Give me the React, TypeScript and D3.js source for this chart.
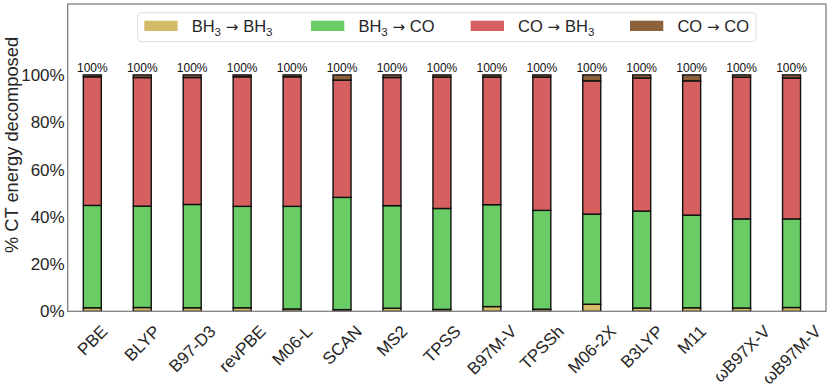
import React from 'react';
import * as d3 from 'd3';

const categories = ['PBE', 'BLYP', 'B97-D3', 'revPBE', 'M06-L', 'SCAN', 'MS2', 'TPSS', 'B97M-V', 'TPSSh', 'M06-2X', 'B3LYP', 'M11', 'ωB97X-V', 'ωB97M-V'];
const bh3ToBh3 = [1.5, 1.6, 1.5, 1.5, 1.0, 0.7, 1.3, 0.8, 2.0, 0.9, 3.0, 1.4, 1.5, 1.4, 1.6];
const bh3ToCo = [43.3, 42.9, 43.7, 42.9, 43.4, 47.5, 43.4, 42.7, 43.1, 41.8, 38.1, 41.0, 39.2, 37.7, 37.5];
const coToBh3 = [54.4, 54.4, 53.7, 54.8, 54.8, 49.6, 54.2, 55.6, 54.0, 56.4, 56.4, 56.3, 56.8, 59.9, 59.6];
const coToCo = [0.8, 1.1, 1.1, 0.8, 0.8, 2.2, 1.1, 0.9, 0.9, 0.9, 2.5, 1.3, 2.5, 1.0, 1.3];
const yTicks = [0, 20, 40, 60, 80, 100];
const seriesKeys = ['bh3bh3', 'bh3co', 'cobh3', 'coco'];
const seriesColors = ['#D5BB67', '#6ACC64', '#D65F5F', '#8C613C'];
const legendPairs = [['BH3', 'BH3'], ['BH3', 'CO'], ['CO', 'BH3'], ['CO', 'CO']];
const legendX = [144.3, 311, 470.7, 630];

const W = 830, H = 389;
const FONT = "'Liberation Sans', Arial, 'DejaVu Sans', sans-serif";

function measure(text: string, size: number): number {
  try {
    const c = document.createElement('canvas').getContext('2d');
    if (c) {
      c.font = `${size}px 'Liberation Sans'`;
      return c.measureText(text).width;
    }
  } catch (e) {}
  return text.length * size * 0.6;
}

type Part = { t: string; sub: boolean; arrow?: boolean };

function formulaParts(pair: string[]): Part[] {
  const parts: Part[] = [];
  pair.forEach((s, k) => {
    const m = s.match(/^([A-Za-z]+)(\d*)$/);
    if (m) {
      parts.push({ t: m[1], sub: false });
      if (m[2]) parts.push({ t: m[2], sub: true });
    } else parts.push({ t: s, sub: false });
    if (k === 0) parts.push({ t: ' \u2192 ', sub: false, arrow: true });
  });
  return parts;
}

export default function App() {
  const x = d3.scaleLinear().domain([-0.493, 14.69]).range([67.7, 826]);
  const y = d3.scaleLinear().domain([0, 130]).range([311.3, 4]);
  const half = 0.18;

  const rows = categories.map((c, i) => ({
    cat: c,
    idx: i,
    bh3bh3: bh3ToBh3[i],
    bh3co: bh3ToCo[i],
    cobh3: coToBh3[i],
    coco: coToCo[i],
  }));
  const stacked = d3.stack<any>().keys(seriesKeys)(rows);
  const totals = rows.map((r) => r.bh3bh3 + r.bh3co + r.cobh3 + r.coco);
  const pct = d3.format('.0%');

  const [x0, x1] = x.range();
  const [yb, yt] = y.range();

  return (
    <svg width={W} height={H} style={{ position: 'absolute', left: 0, top: 0 }} fontFamily={FONT}>
      <rect x={0} y={0} width={W} height={H} fill="#fff" />
      {stacked.map((s, si) => (
        <g key={s.key}>
          {s.map((d, i) => (
            <rect
              key={i}
              x={x(i - half)}
              width={x(i + half) - x(i - half)}
              y={y(d[1])}
              height={y(d[0]) - y(d[1])}
              fill={seriesColors[si]}
              stroke="#111"
              strokeWidth={1.4}
            />
          ))}
        </g>
      ))}
      {totals.map((t, i) => (
        <text key={i} x={x(i)} y={y(t) - 3} textAnchor="middle" fontSize={12} fill="#111">
          {pct(t / 100)}
        </text>
      ))}
      <rect x={x0} y={yt} width={x1 - x0} height={yb - yt} fill="none" stroke="#808080" strokeWidth={1.3} />
      {yTicks.map((t) => (
        <text key={t} x={x0 - 3} y={y(t)} dy="0.36em" textAnchor="end" fontSize={17} fill="#262626">
          {pct(t / 100)}
        </text>
      ))}
      <text
        transform={`translate(11, 145) rotate(-90)`}
        textAnchor="middle"
        dominantBaseline="central"
        fontSize={18.3}
        fill="#262626"
      >
        % CT energy decomposed
      </text>
      {categories.map((c, i) => {
        const L = measure(c, 17);
        const cy = 324 + (L / 2 + 6) / Math.SQRT2;
        const cx = x(i);
        return (
          <text
            key={c}
            x={cx}
            y={cy}
            dy="0.35em"
            textAnchor="middle"
            fontSize={17}
            fill="#262626"
            transform={`rotate(-45, ${cx}, ${cy})`}
          >
            {c}
          </text>
        );
      })}
      <g>
        <rect x={137.7} y={12.7} width={756 - 137.7} height={29} rx={4} fill="#fff" fillOpacity={0.9} stroke="#dcdcdc" strokeWidth={1} />
        {legendPairs.map((p, i) => {
          const parts = formulaParts(p);
          let prevSub = false;
          return (
            <g key={i}>
              <rect x={legendX[i]} y={20.7} width={33.3} height={10.3} fill={seriesColors[i]} />
              <text x={legendX[i] + 47.4} y={31.7} fontSize={16.5} fill="#262626">
                {parts.map((pt, k) => {
                  const dy = pt.sub && !prevSub ? 4 : !pt.sub && prevSub ? -4 : 0;
                  prevSub = pt.sub;
                  return (
                    <tspan
                      key={k}
                      dy={dy}
                      fontSize={pt.sub ? 11.5 : pt.arrow ? 15 : 16.5}
                      fontFamily={pt.arrow ? "'DejaVu Sans', sans-serif" : undefined}
                      style={{ whiteSpace: 'pre' }}
                    >
                      {pt.t}
                    </tspan>
                  );
                })}
              </text>
            </g>
          );
        })}
      </g>
    </svg>
  );
}
